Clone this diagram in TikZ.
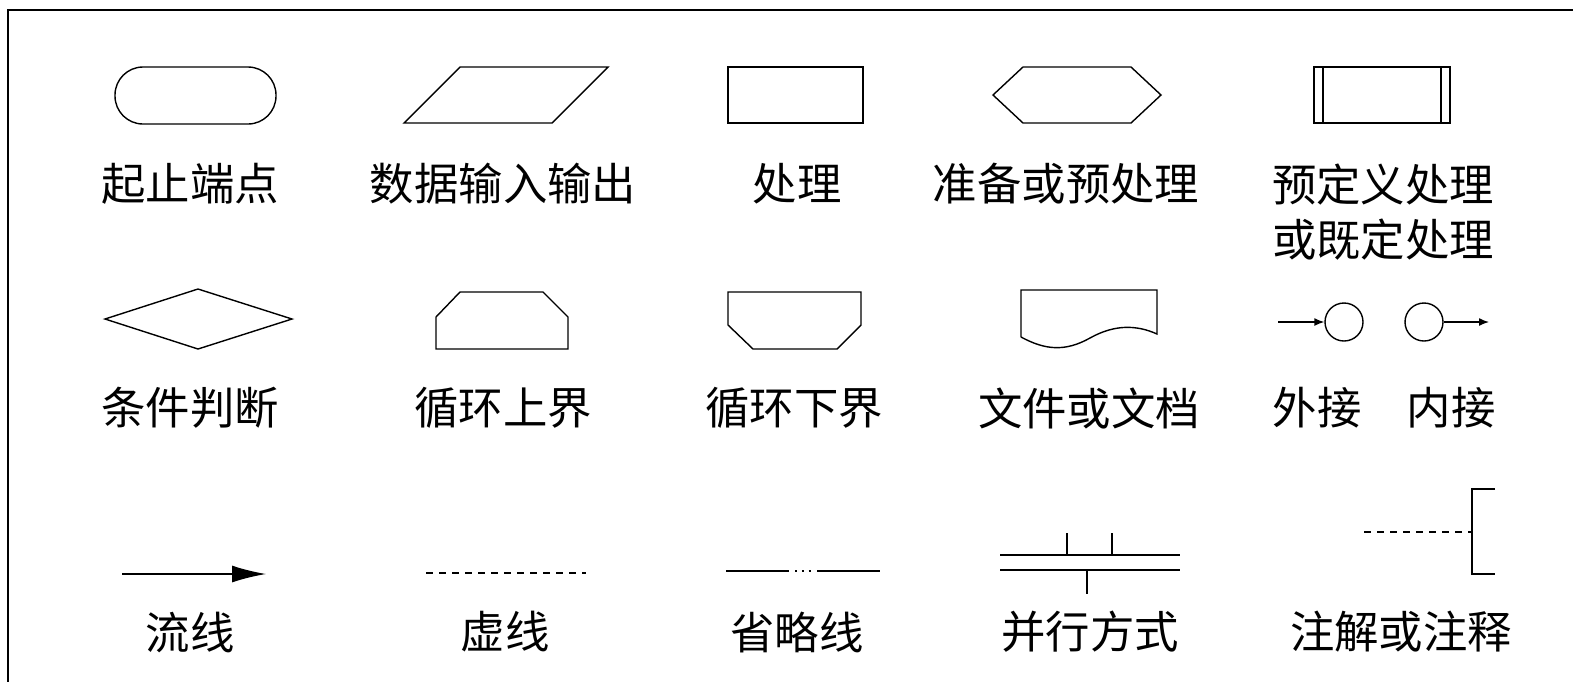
\documentclass[tikz,border=0pt]{standalone}
\usepackage{fontspec}
\usepackage{tikz}
\usetikzlibrary{arrows.meta, positioning}
\newfontfamily\cjk{Noto Sans CJK SC}

\tikzset{
    shapeline/.style={black, line width=0.7pt},
    label/.style={inner sep=0pt, font=\cjk\fontsize{22.2}{27.5}\selectfont, align=center},
    dashline/.style={black, line width=0.6pt, dash pattern=on 3.5pt off 3pt}
}

\begin{document}
\begin{tikzpicture}[>=latex, x=0.5pt, y=-0.5pt]
    \useasboundingbox (0,0) rectangle (1573,682);
    % 外框: 只有上边和左边
    \draw[black, line width=1pt] (1573,10) -- (8,10) -- (8,682);

    % 第一行: 起止端点, 数据输入输出, 处理, 准备或预处理, 预定义处理
    \draw[shapeline, rounded corners=14pt] (115,67) rectangle (276,124);
    \draw[shapeline] (404,123) -- (460,67) -- (608,67) -- (552,123) -- cycle;
    \draw[shapeline] (728,67) rectangle (863,123);
    \draw[shapeline] (993,95) -- (1023,67) -- (1131,67) -- (1161,95) -- (1131,123) -- (1023,123) -- cycle;
    \draw[shapeline] (1314,67) rectangle (1450,123);
    \draw[shapeline] (1323,67) -- (1323,123);
    \draw[shapeline] (1441,67) -- (1441,123);

    \node[label] (terminal) at (190,184) {起止端点};
    \node[label] (inout) at (503,184) {数据输入输出};
    \node[label] (process) at (797,184) {处理};
    \node[label] (prepare) at (1066,184) {准备或预处理};
    \node[label] (predef) at (1383,212) {预定义处理\\或既定处理};

    % 第二行: 条件判断, 循环上界, 循环下界, 文件或文档, 外接和内接
    \draw[shapeline] (105,319) -- (198,289) -- (292,319) -- (198,349) -- cycle;
    \draw[shapeline] (436,349) -- (436,317) -- (460,292) -- (543,292) -- (568,317) -- (568,349) -- cycle;
    \draw[shapeline] (728,292) -- (728,325) -- (753,349) -- (837,349) -- (861,325) -- (861,292) -- cycle;
    \draw[shapeline] (1021,337) -- (1021,290) -- (1157,290) -- (1157,334)
        .. controls (1137,325) and (1115,324) .. (1090,338)
        .. controls (1065,352) and (1045,350) .. (1021,337);

    \node[shapeline, draw, circle, minimum size=19pt, inner sep=0pt] (outer) at (1344,322) {};
    \node[shapeline, draw, circle, minimum size=19pt, inner sep=0pt] (inner) at (1424,322) {};
    \coordinate (outerin) at (1278,322);
    \coordinate (innerout) at (1489,322);
    \draw[shapeline, -{Latex[length=5pt,width=4pt]}] (outerin) -- (outer);
    \draw[shapeline, -{Latex[length=5pt,width=4pt]}] (inner) -- (innerout);

    \node[label] (decision) at (190,408) {条件判断};
    \node[label] (loopup) at (503,408) {循环上界};
    \node[label] (loopdown) at (794,408) {循环下界};
    \node[label] (document) at (1089,408) {文件或文档};
    \node[label] (outerlbl) at (1317,408) {外接};
    \node[label] (innerlbl) at (1451,408) {内接};

    % 第三行: 流线, 虚线, 省略线, 并行方式, 注解或注释
    \coordinate (flowa) at (122,574);
    \coordinate (flowb) at (266,574);
    \draw[shapeline, -{Latex[length=17pt,width=8.5pt]}] (flowa) -- (flowb);

    \draw[dashline] (426,573) -- (586,573);

    \draw[shapeline] (726,571) -- (789,571);
    \draw[black, line width=0.6pt, dash pattern=on 1.2pt off 2.2pt] (795,571) -- (812,571);
    \draw[shapeline] (817,571) -- (880,571);

    \draw[shapeline] (1000,555) -- (1180,555);
    \draw[shapeline] (1000,570) -- (1180,570);
    \draw[shapeline] (1067,533) -- (1067,555);
    \draw[shapeline] (1112,533) -- (1112,555);
    \draw[shapeline] (1087,570) -- (1087,594);

    \draw[dashline] (1364,532) -- (1472,532);
    \draw[shapeline] (1495,489) -- (1472,489) -- (1472,574) -- (1495,574);

    \node[label] (flow) at (190,632) {流线};
    \node[label] (dashed) at (505,632) {虚线};
    \node[label] (ellipsis) at (797,632) {省略线};
    \node[label] (parallel) at (1090,632) {并行方式};
    \node[label] (annot) at (1401,632) {注解或注释};
\end{tikzpicture}
\end{document}
